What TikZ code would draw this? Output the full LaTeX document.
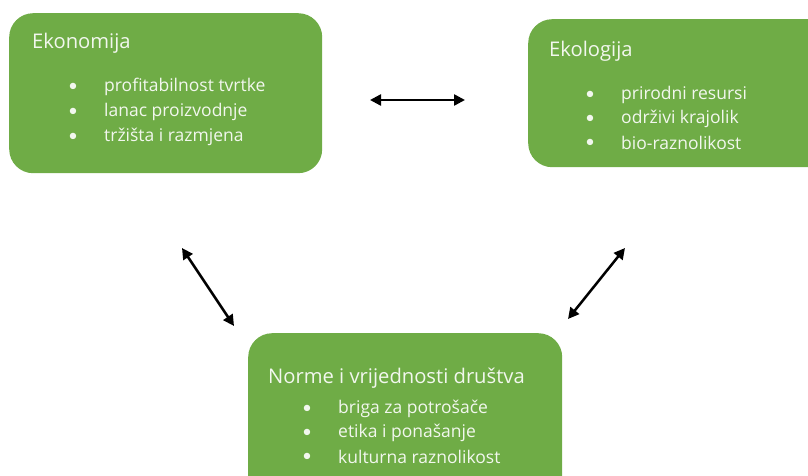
\documentclass[tikz,border=0pt]{standalone}
\usepackage{fontspec}
\setmainfont{Open Sans}
\newfontfamily\bulfont{Carlito}
\usetikzlibrary{arrows.meta}
\definecolor{boxgreen}{HTML}{6FAC46}
\definecolor{txt}{HTML}{F2F7EE}
\begin{document}
\begin{tikzpicture}[x=1pt,y=-1pt,
  greenbox/.style={draw=none,fill=boxgreen,rounded corners=24pt,anchor=north west,inner sep=0pt},
  title/.style={anchor=west,text=txt,font=\fontsize{20.2}{24}\selectfont,inner sep=0pt},
  item/.style={anchor=west,text=txt,font=\fontsize{17.5}{21}\selectfont,inner sep=0pt},
  bul/.style={anchor=center,text=txt,font=\bulfont\fontsize{18}{21}\selectfont,inner sep=0pt},
  link/.style={line width=2.5pt,{Triangle[length=11pt,width=11pt]}-{Triangle[length=11pt,width=11pt]}}]
\useasboundingbox (0,0) rectangle (808,476);
\clip (0,0) rectangle (808,476);
% boxes
\node[greenbox,minimum width=313pt,minimum height=160pt] (eko) at (9,13) {};
\node[greenbox,minimum width=310pt,minimum height=148pt] (ekol) at (528,19) {};
\node[greenbox,minimum width=314pt,minimum height=170pt] (norme) at (248,333) {};
% Ekonomija
\node[title] (t1) at (32,43) {Ekonomija};
\node[bul] (b11) at (73,87) {\textbullet};
\node[bul] (b12) at (73,112) {\textbullet};
\node[bul] (b13) at (73,137) {\textbullet};
\node[item] (i11) at (104,87) {profitabilnost tvrtke};
\node[item] (i12) at (104,112) {lanac proizvodnje};
\node[item] (i13) at (104,137) {tržišta i razmjena};
% Ekologija
\node[title] (t2) at (549,51) {Ekologija};
\node[bul] (b21) at (590,95) {\textbullet};
\node[bul] (b22) at (590,119) {\textbullet};
\node[bul] (b23) at (590,143) {\textbullet};
\node[item] (i21) at (621,95) {prirodni resursi};
\node[item] (i22) at (621,119) {održivi krajolik};
\node[item] (i23) at (621,143) {bio-raznolikost};
% Norme
\node[title] (t3) at (268,378) {Norme i vrijednosti društva};
\node[bul] (b31) at (307,409) {\textbullet};
\node[bul] (b32) at (307,433) {\textbullet};
\node[bul] (b33) at (307,457) {\textbullet};
\node[item] (i31) at (338,409) {briga za potrošače};
\node[item] (i32) at (338,433) {etika i ponašanje};
\node[item] (i33) at (338,457) {kulturna raznolikost};
% connectors
\coordinate (a1) at (370,100);
\coordinate (a2) at (465,100);
\coordinate (c1) at (182,248);
\coordinate (c2) at (234,326);
\coordinate (d1) at (625,248);
\coordinate (d2) at (568,319);
\draw[link] (a1) -- (a2);
\draw[link] (c1) -- (c2);
\draw[link] (d1) -- (d2);
\end{tikzpicture}
\end{document}
